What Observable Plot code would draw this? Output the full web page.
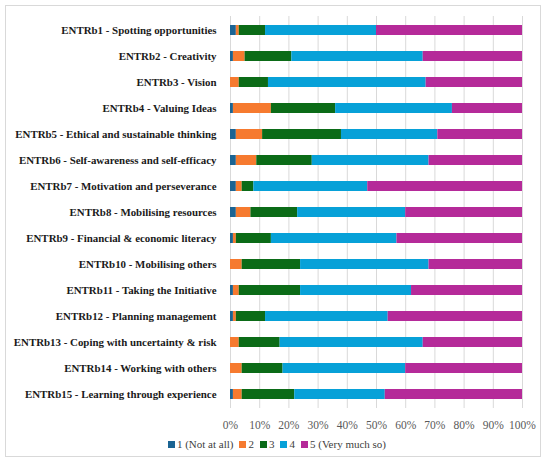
<!DOCTYPE html>
<html>
<head>
<meta charset="utf-8">
<script src="https://cdn.jsdelivr.net/npm/d3@7"></script>
<script src="https://cdn.jsdelivr.net/npm/@observablehq/plot@0.6"></script>
<style>
  html, body { margin: 0; padding: 0; background: #fff; }
  #wrap { position: relative; width: 550px; height: 463px; }
  #frame { position: absolute; left: 5px; top: 5px; width: 536px; height: 452px; border: 1px solid #d9d9d9; box-sizing: border-box; pointer-events: none; }
  #chart { position: absolute; left: 0; top: 0; }
  #legend { position: absolute; left: 0; top: 438px; width: 550px; text-align: center; font-family: "Liberation Serif", serif; font-size: 11px; color: #404040; padding-left: 4px; box-sizing: border-box; }
  #legend span.item { margin: 0 3px; white-space: nowrap; }
  #legend span.sw { display: inline-block; width: 7px; height: 7px; margin-right: 2px; vertical-align: 0px; }
</style>
</head>
<body>
<div id="wrap">
  <div id="chart"></div>
  <div id="legend"></div>
  <div id="frame"></div>
</div>
<script>
const categories = [
  "ENTRb1 - Spotting opportunities",
  "ENTRb2 - Creativity",
  "ENTRb3 - Vision",
  "ENTRb4 - Valuing Ideas",
  "ENTRb5 - Ethical and sustainable thinking",
  "ENTRb6 - Self-awareness and self-efficacy",
  "ENTRb7 - Motivation and perseverance",
  "ENTRb8 - Mobilising resources",
  "ENTRb9 - Financial & economic literacy",
  "ENTRb10 - Mobilising others",
  "ENTRb11 - Taking the Initiative",
  "ENTRb12 - Planning management",
  "ENTRb13 - Coping with uncertainty & risk",
  "ENTRb14 - Working with others",
  "ENTRb15 - Learning through experience"
];
const levels = ["1 (Not at all)", "2", "3", "4", "5 (Very much so)"];
const colors = ["#1b6493", "#f67a2f", "#0b6b17", "#07a1d8", "#b52a99"];
// percentages per level, one value per category
const level1 = [2, 1, 0, 1, 2, 2, 2, 2, 1, 0, 1, 1, 0, 0, 1];
const level2 = [1, 4, 3, 13, 9, 7, 2, 5, 1, 4, 2, 1, 3, 4, 3];
const level3 = [9, 16, 10, 22, 27, 19, 4, 16, 12, 20, 21, 10, 14, 14, 18];
const level4 = [38, 45, 54, 40, 33, 40, 39, 37, 43, 44, 38, 42, 49, 42, 31];
const level5 = [50, 34, 33, 24, 29, 32, 53, 40, 43, 32, 38, 46, 34, 40, 47];
const xTicks = [0, 10, 20, 30, 40, 50, 60, 70, 80, 90, 100];

const series = [level1, level2, level3, level4, level5];
const rows = [];
series.forEach((vals, li) => {
  vals.forEach((v, ci) => {
    rows.push({category: categories[ci], level: levels[li], value: v});
  });
});

const chart = Plot.plot({
  width: 550,
  height: 438,
  marginLeft: 230,
  marginRight: 28,
  marginTop: 16,
  marginBottom: 30,
  style: {fontFamily: "'Liberation Serif', serif", background: "transparent"},
  x: {domain: [0, 100], ticks: xTicks, tickFormat: d => d + "%", label: null},
  y: {domain: categories, padding: 0, label: null},
  color: {domain: levels, range: colors},
  marks: [
    Plot.gridX(xTicks, {stroke: "#d9d9d9", strokeOpacity: 1}),
    Plot.barX(rows, {x: "value", y: "category", fill: "level", insetTop: 8, insetBottom: 8}),
    Plot.axisX({ticks: xTicks, tickFormat: d => d + "%", tickSize: 0, tickPadding: 12, fontSize: 11.5, fill: "#595959", label: null}),
    Plot.axisY({tickSize: 0, tickPadding: 14, fontSize: 10.9, fontWeight: "bold", fill: "#1a1a1a", label: null})
  ]
});
document.getElementById("chart").appendChild(chart);

const leg = document.getElementById("legend");
levels.forEach((l, i) => {
  const item = document.createElement("span");
  item.className = "item";
  const sw = document.createElement("span");
  sw.className = "sw";
  sw.style.background = colors[i];
  item.appendChild(sw);
  item.appendChild(document.createTextNode(l));
  leg.appendChild(item);
});
</script>
</body>
</html>
